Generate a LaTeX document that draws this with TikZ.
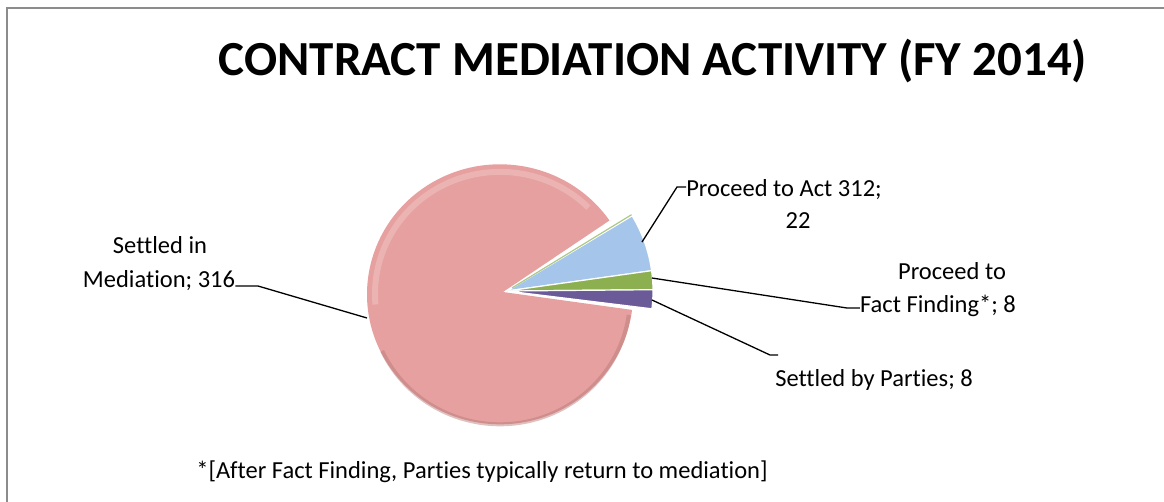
\documentclass[tikz,border=0pt]{standalone}
\usepackage{fontspec}
\setmainfont{Carlito}[Ligatures=NoCommon]
\usetikzlibrary{calc}
\definecolor{pinkc}{HTML}{E6A09F}
\definecolor{pinkdark}{HTML}{B57675}
\definecolor{bluec}{HTML}{A5C6EA}
\definecolor{greenc}{HTML}{8CB050}
\definecolor{purplec}{HTML}{6B5A98}
\definecolor{framec}{HTML}{8C8C8C}
\begin{document}
\begin{tikzpicture}[x=1pt,y=-1pt,
  lbl/.style={font=\fontsize{24.5}{28}\selectfont, inner sep=0pt, anchor=base},
  leader/.style={draw=black, line width=1.3pt},
  slice/.style={draw=white, line width=1.2pt, line join=round}]
\useasboundingbox (0,0) rectangle (1164,501);
\begin{scope}
  \clip (0,0) rectangle (1164,501);
  \draw[framec, line width=2pt] (7,8) rectangle (1180,520);
\end{scope}
% title
\node[font=\fontsize{49}{55}\selectfont\bfseries, inner sep=0pt, anchor=base] (title) at (653,75) {CONTRACT MEDIATION ACTIVITY (FY 2014)};
% pie geometry
\coordinate (P) at (500,296);
\coordinate (A) at (503,292);
\coordinate (S) at (507,291);
% pink slice
\fill[pinkc] (A) -- ($(P)+(-34.6:133)$) arc[start angle=-34.6, end angle=-353.1, x radius=133, y radius=130] -- cycle;
\draw[pinkdark, opacity=0.45, line width=4pt] ($(P)+(-205:130)$) arc[start angle=-205, end angle=-352, x radius=130, y radius=127];
\draw[white, opacity=0.2, line width=6pt] ($(P)+(-45:125)$) arc[start angle=-45, end angle=-185, x radius=125, y radius=122];
% small exploded slices
\fill[bluec, slice] (S) -- ++(-31:146) arc[start angle=-31, end angle=-8, radius=146] -- cycle;
\fill[greenc, slice] (S) -- ++(-8:146) arc[start angle=-8, end angle=-0.5, radius=146] -- cycle;
\fill[purplec, slice] (S) -- ++(-0.5:146) arc[start angle=-0.5, end angle=7, radius=146] -- cycle;
\draw[greenc!70!white, line width=1.2pt] ($(S)+(-31.5:6)$) -- ($(S)+(-31.5:146)$);
% anchor points on slices
\coordinate (pBlue) at (642,242);
\coordinate (pGreen) at (652,278);
\coordinate (pPurple) at (652,300);
\coordinate (pPink) at (367,318);
% labels
\node[lbl] (l1a) at (784,196) {Proceed to Act 312;};
\node[lbl] (l1b) at (798,228) {22};
\node[lbl] (l2a) at (952,279) {Proceed to};
\node[lbl] (l2b) at (938,312) {Fact Finding*; 8};
\node[lbl] (l3) at (874,386) {Settled by Parties; 8};
\node[lbl] (l4a) at (160,253) {Settled in};
\node[lbl] (l4b) at (159,287) {Mediation; 316};
\node[lbl] (foot) at (482,478) {*[After Fact Finding, Parties typically return to mediation]};
% leaders
\draw[leader] (pBlue) -- (677,187) -- (l1a.west |- 0,187);
\draw[leader] (pGreen) -- (847,308) -- (l2b.west |- 0,308);
\draw[leader] (pPurple) -- (770,355) -- (778,355);
\draw[leader] (pPink) -- (258,286) -- (l4b.east |- 0,286);
\end{tikzpicture}
\end{document}
